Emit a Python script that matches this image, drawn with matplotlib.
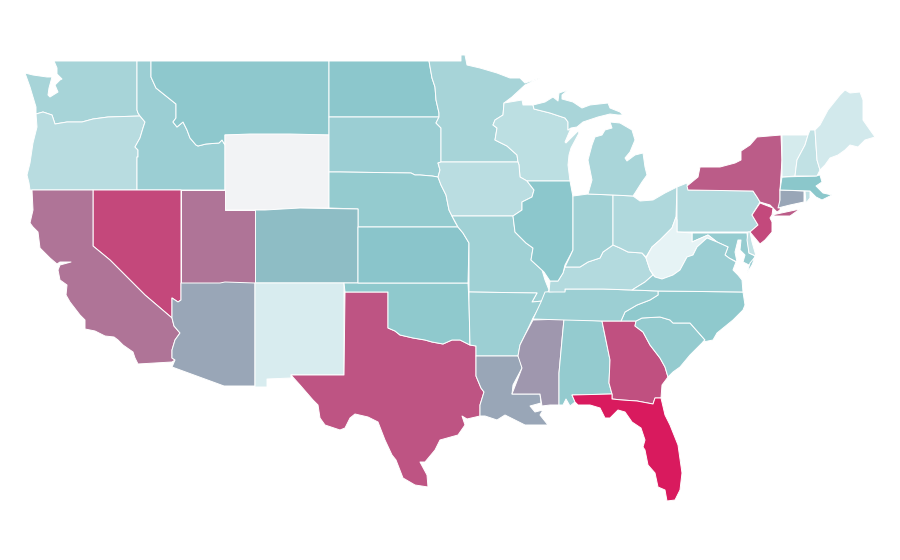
import numpy as np
import matplotlib
matplotlib.use("Agg")
import matplotlib.pyplot as plt
from matplotlib.colors import LinearSegmentedColormap, Normalize

# state outlines (x, y in picture pixels)
WA = [(54,61),(137,61),(137,110),(138,113),(140,116),(108,117),(93,119),(82,122),(67,122),(55,124),(52,115),(43,112),(36,114),(36,107),(33,97),(30,87),(25,73),(33,75),(47,77),(52,77),(49,88),(48,95),(50,97),(58,92),(55,85),(60,80),(62,79),(57,74),(57,68)]
OR = [(36,114),(43,112),(52,115),(55,124),(67,122),(82,122),(93,119),(108,117),(140,116),(145,122),(143,128),(140,138),(135,147),(138,150),(138,157),(137,157),(137,190),(30,190),(29,183),(27,175),(30,163),(33,143),(37,127)]
ID = [(137,61),(151,61),(151,77),(156,88),(166,96),(176,104),(176,118),(173,122),(177,127),(183,122),(187,130),(190,138),(196,145),(198,146),(206,144),(219,143),(222,140),(225,145),(225,190),(137,190),(137,157),(138,157),(138,150),(135,147),(140,138),(143,128),(145,122),(140,116),(138,113),(137,110)]
MT = [(151,61),(329,61),(329,135),(225,135),(225,145),(222,140),(219,143),(206,144),(198,146),(196,145),(190,138),(187,130),(183,122),(177,127),(173,122),(176,118),(176,104),(166,96),(156,88),(151,77)]
WY = [(225,135),(250,134),(290,134),(329,135),(329,208),(300,208),(265,210),(225,210)]
ND = [(329,61),(429,61),(432,78),(435,87),(436,100),(439,113),(439,117),(329,117)]
SD = [(329,117),(439,117),(436,123),(441,128),(441,162),(438,163),(440,170),(438,177),(432,176),(420,175),(415,175),(411,173),(340,172),(329,172)]
NE = [(329,172),(340,172),(411,173),(415,175),(420,175),(432,176),(438,177),(441,185),(446,195),(449,210),(455,222),(458,227),(358,227),(358,209),(329,208)]
CO = [(255,210),(265,210),(300,208),(358,209),(358,283),(255,283)]
UT = [(181,190),(225,190),(225,210),(255,210),(255,283),(181,283)]
NV = [(93,190),(181,190),(181,300),(178,302),(172,298),(172,304),(172,318),(145,295),(130,280),(110,260),(93,246)]
CA = [(32,190),(93,190),(93,246),(110,260),(130,280),(145,295),(172,318),(174,326),(180,333),(175,340),(172,350),(172,358),(175,360),(172,362),(138,364),(135,358),(133,352),(123,345),(118,340),(114,337),(105,336),(95,331),(85,329),(85,320),(80,315),(70,302),(66,295),(67,285),(60,280),(58,270),(60,265),(71,262),(60,262),(57,264),(50,258),(40,248),(38,232),(33,227),(30,223),(33,210)]
AZ = [(181,283),(220,283),(225,282),(255,283),(255,386),(224,386),(172,367),(175,360),(172,358),(172,350),(175,340),(180,333),(174,326),(172,318),(172,304),(172,298),(178,302),(181,300)]
NM = [(255,283),(344,283),(344,375),(291,375),(291,378),(267,379),(267,387),(255,387)]
TX = [(345,292),(388,292),(388,328),(395,331),(400,335),(413,338),(425,340),(432,342),(443,344),(452,340),(460,340),(470,345),(476,346),(476,376),(481,388),(484,392),(480,405),(480,416),(467,419),(462,416),(465,425),(458,435),(440,440),(435,450),(425,462),(420,462),(427,475),(428,487),(415,485),(403,478),(396,460),(392,455),(385,440),(378,422),(368,417),(355,414),(350,418),(345,428),(340,430),(325,425),(320,418),(318,405),(313,400),(300,385),(291,375),(344,375)]
OK = [(344,283),(468,283),(469,302),(470,345),(460,340),(452,340),(443,344),(432,342),(425,340),(413,338),(400,335),(395,331),(388,328),(388,292),(345,292)]
KS = [(358,227),(458,227),(463,233),(469,243),(468,283),(358,283)]
MN = [(429,61),(461,61),(461,55),(465,55),(467,65),(480,68),(497,73),(510,78),(520,78),(525,83),(540,78),(525,85),(512,97),(504,103),(503,115),(495,120),(493,125),(497,128),(495,140),(507,146),(517,155),(518,162),(441,162),(441,128),(436,123),(439,117),(439,113),(436,100),(435,87),(432,78)]
WI = [(504,103),(522,100),(523,105),(533,105),(534,109),(550,113),(565,118),(568,122),(568,130),(571,128),(565,142),(566,143),(578,131),(579,133),(571,148),(569,155),(568,165),(570,181),(527,181),(520,177),(519,165),(518,162),(517,155),(507,146),(495,140),(497,128),(493,125),(495,120),(503,115)]
IA = [(441,162),(518,162),(519,165),(520,177),(527,181),(534,190),(532,197),(522,202),(522,210),(513,216),(452,216),(449,210),(446,195),(441,185),(438,177),(440,170),(438,163)]
MO = [(452,216),(513,216),(515,232),(526,243),(533,248),(531,260),(542,270),(545,280),(549,290),(543,301),(532,302),(537,293),(469,292),(469,243),(463,233),(458,227)]
AR = [(469,292),(537,293),(532,302),(543,301),(533,318),(525,335),(520,345),(518,356),(476,356),(476,346),(470,345),(469,302)]
LA = [(476,356),(518,356),(520,360),(522,368),(513,385),(512,394),(540,394),(541,403),(530,406),(535,412),(543,410),(540,415),(548,425),(540,425),(525,425),(515,420),(505,415),(497,420),(485,416),(480,416),(480,405),(484,392),(481,388),(476,376)]
MS = [(533,320),(564,319),(562,340),(559,373),(559,405),(550,405),(542,406),(540,394),(512,394),(522,368),(518,356),(520,345),(525,335)]
AL = [(564,319),(602,321),(610,360),(609,383),(612,394),(572,395),(575,402),(570,406),(566,399),(563,405),(559,405),(559,373),(562,340)]
GA = [(602,321),(636,321),(635,326),(643,332),(650,345),(660,358),(665,367),(668,377),(662,385),(661,398),(655,398),(653,404),(637,401),(622,400),(612,399),(612,394),(609,383),(610,360)]
FL = [(572,395),(612,394),(612,399),(622,400),(637,401),(653,404),(655,398),(661,398),(665,415),(670,425),(678,445),(682,473),(680,490),(675,500),(667,501),(665,490),(658,487),(655,473),(648,465),(645,450),(643,447),(645,440),(641,428),(632,422),(625,412),(618,410),(610,418),(605,418),(600,408),(590,405),(578,405),(575,402)]
SC = [(636,321),(642,318),(660,317),(670,320),(673,323),(690,323),(705,340),(703,342),(690,355),(680,367),(673,372),(668,377),(665,367),(660,358),(650,345),(643,332),(635,326)]
NC = [(621,321),(625,312),(637,305),(650,300),(658,295),(658,291),(743,292),(745,305),(743,310),(733,320),(717,333),(713,340),(703,342),(705,340),(690,323),(673,323),(670,320),(660,317),(642,318),(636,321)]
TN = [(533,319),(541,302),(545,292),(565,291),(565,289),(603,289),(658,291),(658,295),(650,300),(637,305),(625,312),(621,321),(602,321),(564,320)]
KY = [(549,292),(550,281),(558,281),(563,273),(565,267),(580,267),(588,262),(600,258),(603,252),(613,245),(620,248),(628,252),(642,253),(646,258),(650,270),(653,275),(645,282),(632,290),(603,289),(565,289),(565,292)]
IL = [(527,181),(570,181),(573,197),(573,250),(565,265),(563,273),(558,281),(550,281),(544,272),(531,260),(533,248),(526,243),(515,232),(513,216),(522,210),(522,202),(532,197),(534,190)]
IN = [(573,196),(588,194),(613,195),(613,245),(603,252),(600,258),(588,262),(580,267),(565,267),(573,250)]
OH = [(613,195),(633,196),(640,201),(653,200),(665,193),(677,187),(676,217),(672,228),(660,240),(652,247),(646,257),(642,253),(628,252),(620,248),(613,245)]
MI_UP = [(533,105),(545,102),(553,97),(558,101),(559,93),(568,90),(562,95),(562,99),(573,102),(582,108),(590,105),(608,103),(610,108),(620,112),(623,115),(618,115),(610,114),(598,117),(583,122),(577,127),(571,128),(568,130),(568,122),(565,118),(550,113),(534,109)]
MI_LP = [(610,122),(620,123),(632,130),(635,140),(630,152),(625,158),(627,161),(635,155),(643,153),(645,167),(647,175),(642,182),(635,193),(633,196),(613,195),(588,194),(592,180),(588,160),(592,145),(595,137),(602,135),(605,130),(612,128)]
PA = [(677,187),(687,183),(688,190),(753,191),(757,197),(760,202),(752,215),(758,225),(750,232),(677,232)]
NY = [(688,190),(687,186),(698,177),(700,167),(720,167),(735,163),(741,160),(741,151),(750,145),(757,137),(781,135),(782,160),(780,190),(780,210),(777,212),(770,205),(760,202),(757,197),(753,191)]
NY_LI = [(772,215),(800,209),(790,216),(775,216)]
NJ = [(760,203),(773,208),(772,215),(770,218),(772,222),(772,232),(765,240),(760,244),(755,238),(750,232),(758,225),(752,215)]
CT = [(780,190),(804,191),(804,202),(790,205),(778,208),(780,200)]
RI = [(805,191),(810,191),(810,198),(806,203)]
MA = [(782,177),(815,176),(820,175),(822,182),(816,186),(823,193),(832,195),(822,200),(816,197),(810,191),(780,190)]
VT = [(782,135),(808,135),(805,145),(797,160),(795,176),(782,177),(782,160)]
NH = [(810,130),(815,130),(817,160),(820,170),(817,176),(795,176),(797,160),(805,145),(808,135)]
ME = [(815,130),(820,125),(828,110),(840,95),(845,90),(850,93),(860,92),(863,100),(863,120),(870,130),(875,137),(865,140),(858,147),(850,145),(845,150),(838,155),(830,158),(825,165),(820,170),(817,160)]
MD = [(692,233),(747,233),(749,253),(755,256),(751,266),(743,262),(745,255),(740,250),(741,240),(738,240),(735,252),(737,262),(729,258),(725,255),(728,247),(717,242),(708,235),(692,242)]
DE = [(748,232),(750,232),(752,242),(756,256),(749,253),(747,240)]
WV = [(677,232),(692,233),(692,242),(708,235),(717,242),(707,238),(697,247),(693,255),(687,257),(680,270),(673,275),(662,279),(655,277),(650,270),(646,258),(652,247),(660,240),(672,228),(676,217),(677,220)]
VA = [(632,290),(645,282),(653,275),(655,277),(662,279),(673,275),(680,270),(687,257),(693,255),(697,247),(707,238),(717,242),(728,247),(725,255),(729,258),(736,262),(733,270),(738,275),(742,280),(743,292),(658,291)]
VA_ES = [(755,257),(750,263),(747,273),(752,265)]

# one entry per outline, some states have two parts
names = ["WA","OR","ID","MT","WY","ND","SD","NE","CO","UT","NV","CA","AZ","NM","TX","OK","KS",
         "MN","WI","IA","MO","AR","LA","MS","AL","GA","FL","SC","NC","TN","KY","IL","IN","OH",
         "MI","MI","PA","NY","NY","NJ","CT","RI","MA","VT","NH","ME","MD","DE","WV","VA","VA"]
outlines = [WA,OR,ID,MT,WY,ND,SD,NE,CO,UT,NV,CA,AZ,NM,TX,OK,KS,
            MN,WI,IA,MO,AR,LA,MS,AL,GA,FL,SC,NC,TN,KY,IL,IN,OH,
            MI_UP,MI_LP,PA,NY,NY_LI,NJ,CT,RI,MA,VT,NH,ME,MD,DE,WV,VA,VA_ES]

# values (0-100), same order as the states first appear in names, WY has no data
state_values = [34,25,41,48,np.nan,49,41,44.6,52.6,73.5,86.6,73.5,59.3,7.6,82.9,47,50,
                34,23,24,38,40,59.3,63.4,44.6,84.3,100,44.6,47,40,28,49,37.5,30,
                33,28,80.8,86,59.3,21,49.5,9,20,11,43.5,20,0,41]
values = dict(zip(dict.fromkeys(names), state_values))

cmap = LinearSegmentedColormap.from_list("map", ["#e6f3f5", "#8ac6cb", "#d91a5e"])
cmap.set_bad("#f2f3f5")
norm = Normalize(0, 100)

fig = plt.figure(figsize=(9, 5.6), dpi=100)
ax = fig.add_axes([0, 0, 1, 1])

for name, outline in zip(names, outlines):
    xy = np.array(outline)
    ax.fill(xy[:, 0], xy[:, 1], facecolor=cmap(norm(np.ma.masked_invalid(values[name]))),
            edgecolor="white", linewidth=0.7, joinstyle="round")

ax.set_xlim(0, 900)
ax.set_ylim(560, 0)
ax.axis("off")
fig.savefig("out.png", dpi=100)
